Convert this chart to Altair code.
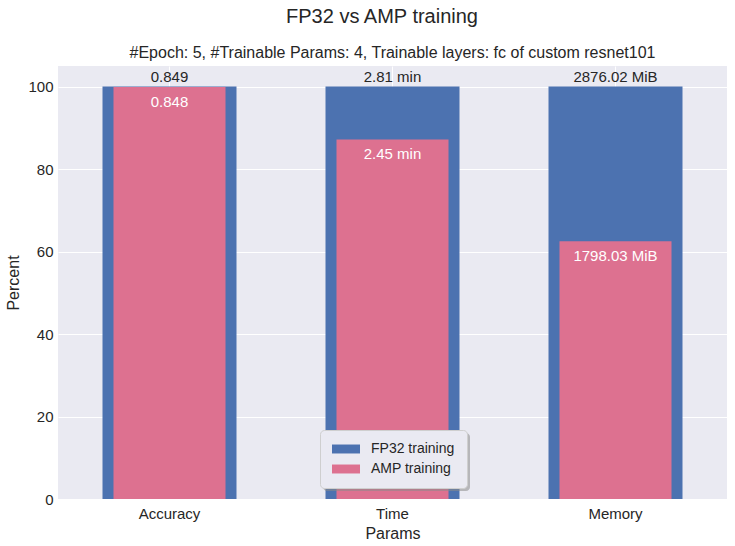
import altair as alt
import pandas as pd

# Measured results for the two training modes
params = ["Accuracy", "Time", "Memory"]
fp32_values = [0.849, 2.81, 2876.02]
amp_values = [0.848, 2.45, 1798.03]
units = ["", " min", " MiB"]
decimals = [3, 2, 2]
series = ["FP32 training", "AMP training"]
colors = ["#4C72B0", "#DD7190"]

main_title_text = "FP32 vs AMP training"
sub_title_text = "#Epoch: 5, #Trainable Params: 4, Trainable layers: fc of custom resnet101"

FONT = "Liberation Sans"
INK = "#262626"

rows = []
for p, f, a, u, d in zip(params, fp32_values, amp_values, units, decimals):
    rows.append({"Params": p, "series": series[0], "percent": 100.0,
                 "label": f"{f:.{d}f}{u}"})
    rows.append({"Params": p, "series": series[1], "percent": a / f * 100.0,
                 "label": f"{a:.{d}f}{u}"})
df = pd.DataFrame(rows)

x = alt.X("Params:N", sort=params,
          scale=alt.Scale(paddingInner=0, paddingOuter=0),
          axis=alt.Axis(title="Params", labelAngle=0, bandPosition=0.5,
                        labelPadding=7, titlePadding=4))
y = alt.Y("percent:Q", scale=alt.Scale(domain=[0, 105], nice=False),
          axis=alt.Axis(title="Percent", values=[0, 20, 40, 60, 80, 100],
                        labelPadding=5, titlePadding=6))
# wide flat swatches; the path is shifted right so it starts at the legend's left padding
color = alt.Color("series:N", scale=alt.Scale(domain=series, range=colors),
                  legend=alt.Legend(title=None, orient="none", legendX=262, legendY=364,
                                    fillColor="#EAEAF2", strokeColor="#CFCFCF",
                                    cornerRadius=4, padding=12,
                                    symbolType="M-1,-0.64H3V0.64H-1Z", symbolSize=196,
                                    symbolStrokeWidth=0, labelFontSize=14,
                                    labelFont=FONT, labelColor=INK, labelOffset=25,
                                    rowPadding=6))

base = alt.Chart(df).encode(x=x, y=y)

fp32 = base.transform_filter(alt.datum.series == series[0])
amp = base.transform_filter(alt.datum.series == series[1])

fp32_bars = fp32.mark_bar(size=134).encode(color=color)
amp_bars = amp.mark_bar(size=112).encode(color=color)
fp32_text = fp32.mark_text(dy=-10, fontSize=15, font=FONT, color=INK).encode(text="label:N")
amp_text = amp.mark_text(dy=15, fontSize=15, font=FONT, color="white").encode(text="label:N")

# drop shadow behind the legend box
legend_shadow = alt.Chart(pd.DataFrame({"s": [0]})).mark_rect(
    color="#8A8A8A", opacity=0.55, cornerRadius=4
).encode(x=alt.value(265), x2=alt.value(412), y=alt.value(367), y2=alt.value(425))

# figure title (centred on the figure) and axes title (centred on the plot area)
main_title = alt.Chart(pd.DataFrame({"t": [main_title_text]})).mark_text(
    fontSize=20, font=FONT, color=INK, baseline="middle"
).encode(x=alt.value(324), y=alt.value(-49), text="t:N")
sub_title = alt.Chart(pd.DataFrame({"t": [sub_title_text]})).mark_text(
    fontSize=16, font=FONT, color=INK, baseline="middle"
).encode(x=alt.value(334.5), y=alt.value(-13), text="t:N")

chart = alt.layer(fp32_bars, amp_bars, fp32_text, amp_text, legend_shadow,
                  main_title, sub_title).properties(
    width=669, height=433,
    autosize=alt.AutoSizeParams(type="none"),
    padding={"left": 58, "top": 66, "right": 8, "bottom": 47},
    background="white",
).configure_view(fill="#EAEAF2", strokeWidth=0).configure_axis(
    domain=False, ticks=False, grid=True, gridColor="white", gridWidth=1,
    labelFont=FONT, labelFontSize=15, labelColor=INK,
    titleFont=FONT, titleFontSize=16, titleColor=INK, titleFontWeight="normal",
)

chart.save("out.html", embed_options={"renderer": "svg", "actions": False})
